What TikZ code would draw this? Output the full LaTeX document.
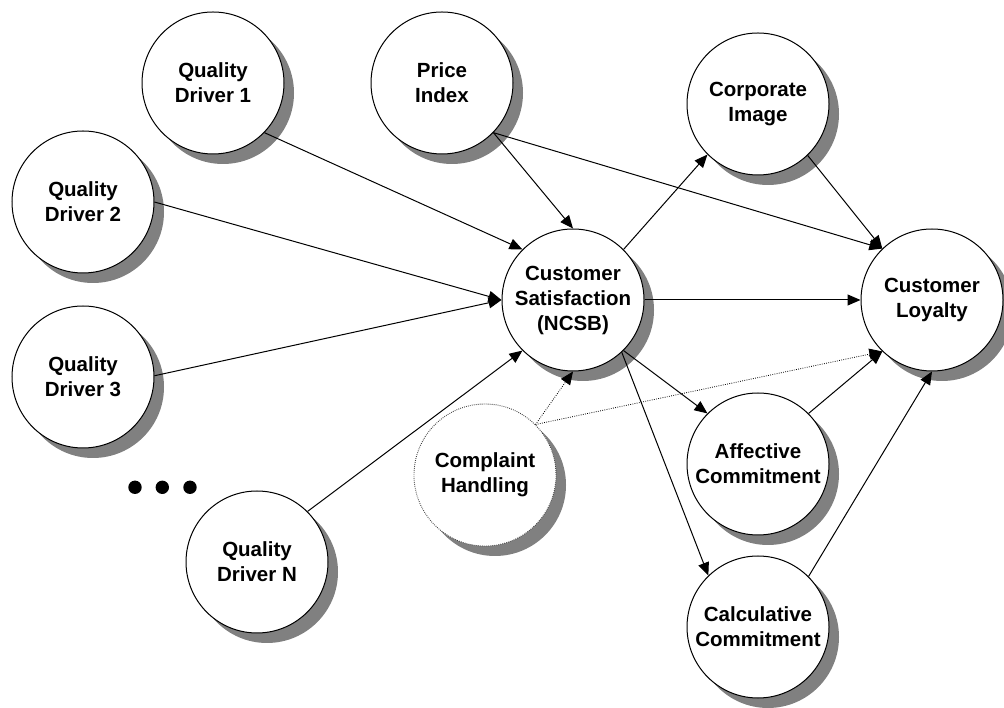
\documentclass[tikz,border=0pt]{standalone}
\usepackage{fontspec}
\setmainfont{Liberation Sans}
\usetikzlibrary{arrows.meta,shadows}
\begin{document}
\begin{tikzpicture}[x=1pt,y=1pt,
  construct/.style={circle,draw=black,line width=1pt,fill=white,minimum size=142pt,inner sep=0pt,
    align=center,font=\fontsize{20.5}{25}\selectfont\bfseries,
    drop shadow={shadow xshift=10pt,shadow yshift=-10pt,fill=black!50,opacity=1}},
  dottedconstruct/.style={construct,draw=black!75,line width=0.9pt,dash pattern=on 0.8pt off 1.2pt},
  link/.style={line width=1pt,-{Triangle[length=13pt,width=11pt]}},
  dottedlink/.style={link,line width=0.8pt,dash pattern=on 0.8pt off 1.4pt},
  bigdot/.style={circle,fill=black,minimum size=13.4pt,inner sep=0pt}]
\useasboundingbox (0,0) rectangle (1004,707);
\node[construct] (qd1) at (213,624) {Quality\\Driver 1};
\node[construct] (pi) at (442,624) {Price\\Index};
\node[construct] (qd2) at (83,505) {Quality\\Driver 2};
\node[construct] (qd3) at (83,330) {Quality\\Driver 3};
\node[construct] (qdn) at (257,145) {Quality\\Driver N};
\node[dottedconstruct] (ch) at (485,232) {Complaint\\Handling};
\node[construct] (cs) at (573,407) {Customer\\Satisfaction\\(NCSB)};
\node[construct] (ci) at (758,603) {Corporate\\Image};
\node[construct] (cl) at (932,407) {Customer\\Loyalty};
\node[construct] (ac) at (758,243) {Affective\\Commitment};
\node[construct] (cc) at (758,80) {Calculative\\Commitment};
\node[bigdot] (d1) at (135,219.7) {};
\node[bigdot] (d2) at (162.3,219.7) {};
\node[bigdot] (d3) at (190,219.7) {};
\draw[link] (qd1.-44) -- (cs.135);
\draw[link] (qd2.0) -- (cs.180);
\draw[link] (qd3.1) -- (cs.180);
\draw[link] (qdn.45) -- (cs.-135);
\draw[link] (pi.-44) -- (cs.90);
\draw[link] (pi.-44) -- (cl.134);
\draw[link] (ci.-46) -- (cl.134);
\draw[link] (cs.45) -- (ci.225);
\draw[link] (cs.0) -- (cl.180);
\draw[link] (cs.-45) -- (ac.135);
\draw[link] (cs.-47) -- (cc.134);
\draw[dottedlink] (ch.45) -- (cs.-90);
\draw[dottedlink] (ch.45) -- (cl.-134);
\draw[link] (ac.45) -- (cl.-134);
\draw[link] (cc.45) -- (cl.-90);
\end{tikzpicture}
\end{document}
